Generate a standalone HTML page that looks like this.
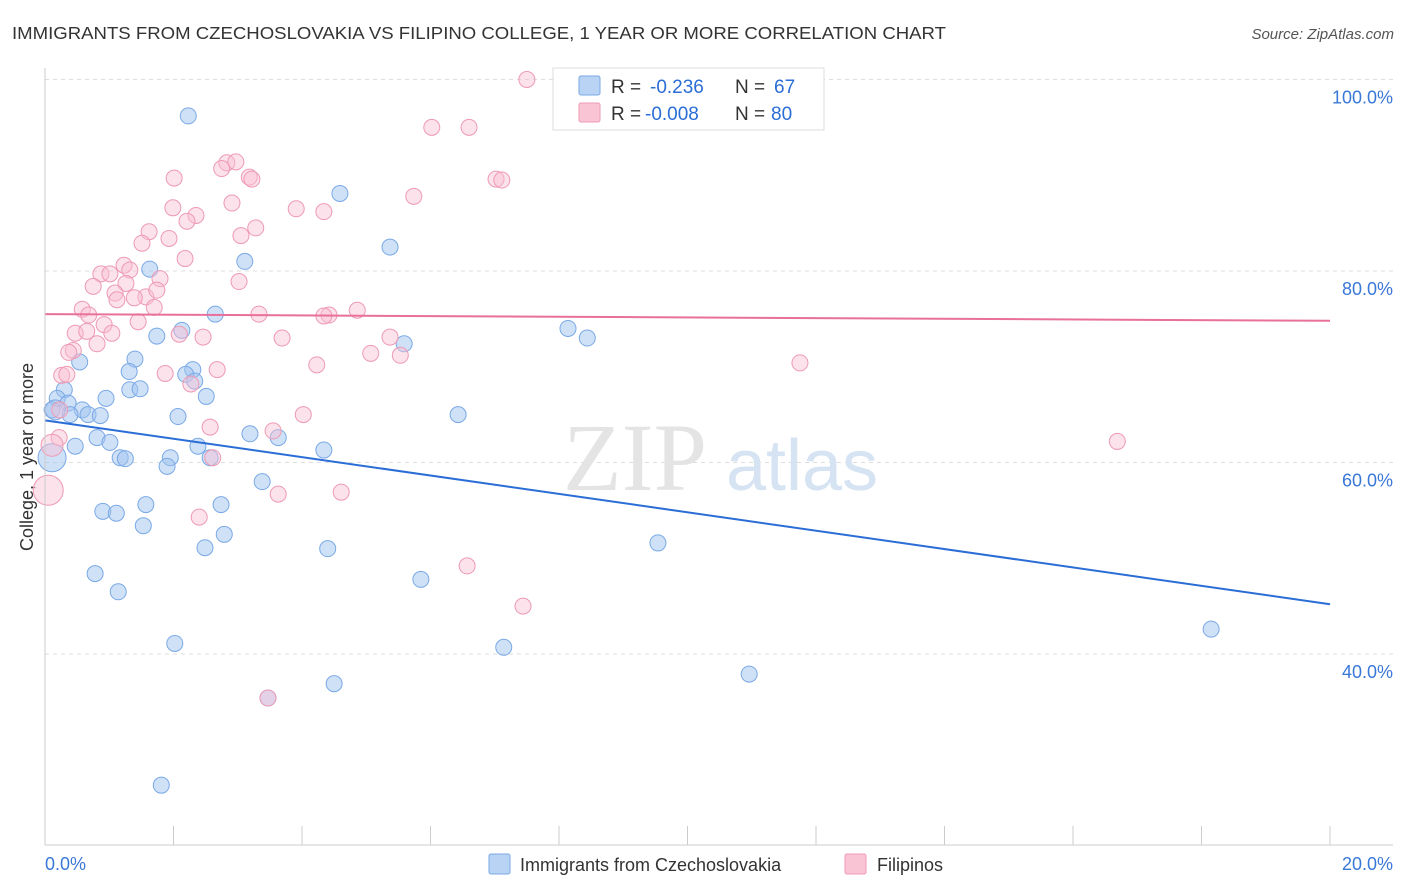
<!DOCTYPE html>
<html><head><meta charset="utf-8">
<style>
body{margin:0;background:#fff;width:1406px;height:892px;overflow:hidden;font-family:"Liberation Sans",sans-serif}
svg{position:absolute;left:0;top:0}
</style></head>
<body>
<svg id="chart" width="1406" height="892">
<text x="12" y="39" font-size="17.5" fill="#333" textLength="934" lengthAdjust="spacingAndGlyphs">IMMIGRANTS FROM CZECHOSLOVAKIA VS FILIPINO COLLEGE, 1 YEAR OR MORE CORRELATION CHART</text>
<text x="1394" y="39" font-size="15" fill="#555" font-style="italic" text-anchor="end">Source: ZipAtlas.com</text>
<text x="33" y="457" font-size="18" fill="#333" text-anchor="middle" transform="rotate(-90 33 457)">College, 1 year or more</text>
<g id="grid"></g>
<g>
<text x="635" y="490" font-size="96" fill="#e4e4e4" font-family="Liberation Serif,serif" text-anchor="middle">ZIP</text>
<text x="802" y="490" font-size="72" fill="#d6e3f3" text-anchor="middle">atlas</text>
</g>
<g id="pts"></g>
<g id="lines"></g>
<g id="axes"></g>
<g>
<rect x="553" y="68" width="271" height="62" fill="#fff" stroke="#ddd"/>
<rect x="579" y="76" width="21" height="19" fill="#b9d3f5" stroke="#7aa9e6" rx="2"/>
<rect x="579" y="103" width="21" height="19" fill="#f9c5d5" stroke="#ee9ab4" rx="2"/>
<g font-size="19">
<text x="611" y="93" fill="#333">R =</text><text x="650" y="93" fill="#2a6dd6">-0.236</text>
<text x="735" y="93" fill="#333">N =</text><text x="774" y="93" fill="#2a6dd6">67</text></g>
<g font-size="19">
<text x="611" y="120" fill="#333">R =</text><text x="645" y="120" fill="#2a6dd6">-0.008</text>
<text x="735" y="120" fill="#333">N =</text><text x="771" y="120" fill="#2a6dd6">80</text></g>
</g>
<g>
<rect x="489" y="854" width="21" height="20" fill="#b9d3f5" stroke="#7aa9e6" rx="2"/>
<text x="520" y="871" font-size="18" fill="#333">Immigrants from Czechoslovakia</text>
<rect x="845" y="854" width="21" height="20" fill="#f9c5d5" stroke="#ee9ab4" rx="2"/>
<text x="877" y="871" font-size="18" fill="#333">Filipinos</text>
</g>
</svg>
<script>
const xTicks=[0,20];
const yTicks=[40,60,80,100];
const blueX=[2.23,4.59,5.37,3.11,1.63,2.65,8.14,8.44,1.74,2.13,5.59,1.40,0.54,1.31,2.30,2.19,2.33,1.32,1.48,2.51,0.30,0.19,0.95,0.36,0.11,0.58,0.67,0.86,0.39,2.07,6.43,3.19,0.81,1.01,3.63,0.47,2.38,4.34,1.17,1.25,2.57,1.95,1.90,3.38,1.57,2.74,0.90,1.11,1.53,2.79,2.49,4.40,9.54,0.78,5.85,1.14,2.02,7.14,18.15,10.96,4.50,3.47,1.81,0.11,0.16];
const blueY=[96.2,88.1,82.5,81.0,80.2,75.5,74.0,73.0,73.2,73.8,72.4,70.8,70.5,69.5,69.7,69.2,68.5,67.6,67.7,66.9,67.6,66.7,66.7,66.2,65.5,65.5,65.0,64.9,65.0,64.8,65.0,63.0,62.6,62.1,62.6,61.7,61.7,61.3,60.5,60.4,60.5,60.5,59.6,58.0,55.6,55.6,54.9,54.7,53.4,52.5,51.1,51.0,51.6,48.4,47.8,46.5,41.1,40.7,42.6,37.9,36.9,35.4,26.3,60.5,65.5];
const pinkX=[7.50,6.02,6.60,2.83,2.97,2.75,3.18,3.22,2.01,5.74,7.02,7.11,2.91,1.99,2.35,3.91,4.34,2.21,3.28,1.62,3.05,1.93,1.51,2.18,1.23,0.87,1.01,1.32,1.79,1.26,0.75,3.02,1.09,1.57,1.39,1.74,1.12,1.70,0.58,0.68,3.33,4.42,4.86,4.34,1.45,0.92,0.47,0.65,1.04,2.09,2.46,3.69,5.37,0.81,0.44,0.37,5.07,5.53,4.23,11.75,1.87,2.68,0.26,0.34,2.27,4.02,2.57,3.55,0.22,16.69,0.11,2.61,3.63,4.61,2.40,6.57,7.44,3.47,0.05,0.23];
const pinkY=[100.0,95.0,95.0,91.3,91.4,90.7,89.8,89.6,89.7,87.8,89.6,89.5,87.1,86.6,85.8,86.5,86.2,85.2,84.5,84.1,83.7,83.4,82.9,81.3,80.6,79.7,79.7,80.1,79.2,78.7,78.4,78.9,77.7,77.3,77.2,78.0,77.0,76.2,76.0,75.4,75.5,75.4,75.9,75.3,74.7,74.4,73.5,73.7,73.5,73.4,73.1,73.0,73.1,72.4,71.7,71.5,71.4,71.2,70.2,70.4,69.3,69.7,69.1,69.2,68.2,65.0,63.7,63.3,62.6,62.2,61.8,60.5,56.7,56.9,54.3,49.2,45.0,35.4,57.1,65.5];
const blueTrend=[64.4,45.2];
const pinkTrend=[75.5,74.8];
const NS="http://www.w3.org/2000/svg";
const X=v=>45+v*64.25;
const Y=v=>654-(v-40)*9.575;
function mk(tag,attrs,parent){const e=document.createElementNS(NS,tag);for(const k in attrs)e.setAttribute(k,attrs[k]);parent.appendChild(e);return e;}
const grid=document.getElementById('grid'),axes=document.getElementById('axes'),pts=document.getElementById('pts'),lines=document.getElementById('lines');
yTicks.forEach(t=>{
 const l=mk('line',{x1:45,x2:1393,y1:Y(t),y2:Y(t),stroke:'#ddd','stroke-dasharray':'4,4'},grid);
 
 
 const tx=mk('text',{x:1393,y:Y(t)+24,'font-size':18,fill:'#3a78d8','text-anchor':'end'},axes);
 tx.textContent=t.toFixed(1)+'%';
 
 
});
mk('line',{x1:45,x2:45,y1:68,y2:845,stroke:'#ccc'},axes);
mk('line',{x1:45,x2:1393,y1:845,y2:845,stroke:'#ccc'},axes);
for(let i=0;i<=10;i++){mk('line',{x1:X(i*2),x2:X(i*2),y1:826,y2:845,stroke:'#ccc'},axes);}
xTicks.forEach((t,i)=>{
 const tx=mk('text',{x:i==0?45:1393,y:870,'font-size':18,fill:'#3a78d8','text-anchor':i==0?'start':'end'},axes);
 tx.textContent=t.toFixed(1)+'%';
 
 
});
blueX.forEach((v,i)=>{
 const r=(i==63)?14:((i==64)?10:8);
 const c=mk('circle',{cx:X(v),cy:Y(blueY[i]),r:r,fill:'rgba(160,196,240,0.5)',stroke:'#7aa9e6','stroke-width':1},pts);
 
 
});
pinkX.forEach((v,i)=>{
 const big=(i==78)?15:((i==70)?11:8);
 const c=mk('circle',{cx:X(v),cy:Y(pinkY[i]),r:big,fill:'rgba(248,190,210,0.45)',stroke:'#ee9ab4','stroke-width':1},pts);
 
 
});
const bl=mk('line',{x1:X(0),x2:X(20),y1:Y(blueTrend[0]),y2:Y(blueTrend[1]),stroke:'#2a6dd6','stroke-width':2},lines);


const pl=mk('line',{x1:X(0),x2:X(20),y1:Y(pinkTrend[0]),y2:Y(pinkTrend[1]),stroke:'#e8709a','stroke-width':2},lines);


</script>
</body></html>
